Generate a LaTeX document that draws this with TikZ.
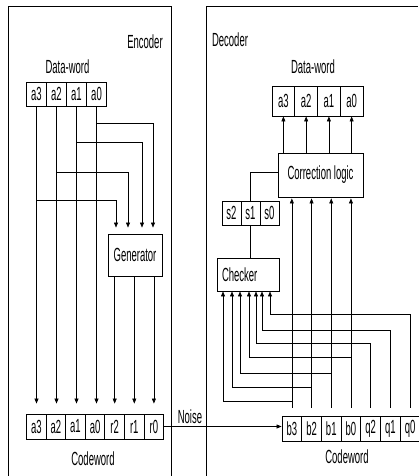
\documentclass[tikz,border=0pt]{standalone}
\usepackage{fontspec}
\setmainfont{Liberation Sans}[FakeStretch=0.5]
\usetikzlibrary{arrows.meta}
\begin{document}
\begin{tikzpicture}[x=1pt,y=-1pt,
  font=\fontsize{19}{21}\selectfont,
  box/.style={draw, line width=0.9pt, inner sep=0pt},
  cellA/.style={box, minimum width=20pt, minimum height=24pt},
  cellB/.style={box, minimum width=19.6pt, minimum height=25pt},
  cellC/.style={box, minimum width=22.75pt, minimum height=30pt},
  cellD/.style={box, minimum width=19.7pt, minimum height=25pt},
  cellE/.style={box, minimum width=19pt, minimum height=24pt},
  frame/.style={line width=0.8pt},
  wire/.style={line width=0.6pt},
  arr/.style={wire, -{Triangle[length=5pt,width=4pt]}},
  lbl/.style={inner sep=0pt}]
\useasboundingbox (0,0) rectangle (418,476);

% frames
\draw[frame] (8,476) -- (8,6) -- (171,6) -- (171,476);
\draw[frame] (206,476) -- (206,6) -- (418,6);

% ---------- Encoder ----------
\node[lbl] (enclbl) at (145,42) {Encoder};
\node[lbl] (edwlbl) at (67.5,67) {Data-word};
\foreach \t [count=\i from 0] in {a3,a2,a1,a0}
  \node[cellA] (e\t) at (36.5+20*\i,94) {\t};

\foreach \t [count=\i from 0] in {a3,a2,a1,a0,r2,r1,r0}
  \node[cellB] (c\t) at (36.3+19.6*\i,426.5) {\t};
\node[lbl] (ecwlbl) at (93,459) {Codeword};

\node[box, minimum width=54pt, minimum height=42pt] (gen) at (135,255) {Generator};

\coordinate (lv0) at (0,123);
\coordinate (lv1) at (0,142);
\coordinate (lv2) at (0,172);
\coordinate (lv3) at (0,200);
\coordinate (gin0) at ([xshift=18pt]gen.north);
\coordinate (gin1) at ([xshift=7pt]gen.north);
\coordinate (gin2) at ([xshift=-7pt]gen.north);
\coordinate (gin3) at ([xshift=-19pt]gen.north);

\foreach \n in {a3,a2,a1,a0}
  \draw[arr, shorten >=10pt] (e\n.south) -- (e\n.south |- c\n.north);

\draw[arr, shorten >=6pt] (ea0.south |- lv0) -| (gin0);
\draw[arr, shorten >=6pt] (ea1.south |- lv1) -| (gin1);
\draw[arr, shorten >=6pt] (ea2.south |- lv2) -| (gin2);
\draw[arr, shorten >=6pt] (ea3.south |- lv3) -| (gin3);

\foreach \n in {r2,r1,r0}
  \draw[arr, shorten >=10pt] (gen.south -| c\n) -- (c\n.north);

% ---------- Decoder ----------
\node[lbl] (declbl) at (230,40) {Decoder};
\node[lbl] (ddwlbl) at (313,67) {Data-word};
\foreach \t [count=\i from 0] in {a3,a2,a1,a0}
  \node[cellC] (d\t) at (283.4+22.75*\i,101) {\t};

\node[box, minimum width=85pt, minimum height=44pt] (corr) at (320.5,175) {Correction logic};

\foreach \t [count=\i from 0] in {s2,s1,s0}
  \node[cellE] (d\t) at (231.5+19*\i,213) {\t};

\node[box, text width=52pt, align=left, inner xsep=5pt, inner ysep=0pt,
      minimum height=33pt] (chk) at (248,274.5) {Checker};

\foreach \t [count=\i from 0] in {b3,b2,b1,b0,q2,q1,q0}
  \node[cellD] (d\t) at (291.85+19.7*\i,428.5) {\t};
\node[lbl] (dcwlbl) at (347,457) {Codeword};

% noise
\draw[arr] (cr0.east) -- (cr0.east -| db3.west)
  node[pos=0.22, anchor=south, lbl, yshift=3pt] (noiselbl) {Noise};

% correction logic -> data word
\foreach \n in {a3,a2,a1,a0}
  \draw[arr] (d\n.south |- corr.north) -- (d\n.south);

% syndrome
\draw[wire] ([yshift=3pt]corr.west) -| (ds1.north);
\draw[wire] (ds1.south) -- (ds1.south |- chk.north);

% checker inputs
\coordinate (ci0) at ([xshift=-25pt]chk.south);
\coordinate (ci1) at ([xshift=-16pt]chk.south);
\coordinate (ci2) at ([xshift=-8pt]chk.south);
\coordinate (ci3) at ([xshift=1pt]chk.south);
\coordinate (ci4) at ([xshift=8pt]chk.south);
\coordinate (ci5) at ([xshift=14pt]chk.south);
\coordinate (ci6) at ([xshift=22pt]chk.south);

\coordinate (lb3) at (0,401);
\coordinate (lb2) at (0,387);
\coordinate (lb1) at (0,373);
\coordinate (lb0) at (0,357);
\coordinate (lq2) at (0,343);
\coordinate (lq1) at (0,330);
\coordinate (lq0) at (0,314);

\foreach \n in {b3,b2,b1,b0}
  \draw[arr, shorten <=8pt, shorten >=1pt] (d\n.north) -- (d\n.north |- corr.south);

\draw[arr] (db3.north |- lb3) -| (ci0);
\draw[arr] (db2.north |- lb2) -| (ci1);
\draw[arr] (db1.north |- lb1) -| (ci2);
\draw[arr] (db0.north |- lb0) -| (ci3);
\draw[arr, shorten <=8pt] (dq2.north) -- (dq2.north |- lq2) -| (ci4);
\draw[arr, shorten <=8pt] (dq1.north) -- (dq1.north |- lq1) -| (ci5);
\draw[arr, shorten <=8pt] (dq0.north) -- (dq0.north |- lq0) -| (ci6);
\end{tikzpicture}
\end{document}
